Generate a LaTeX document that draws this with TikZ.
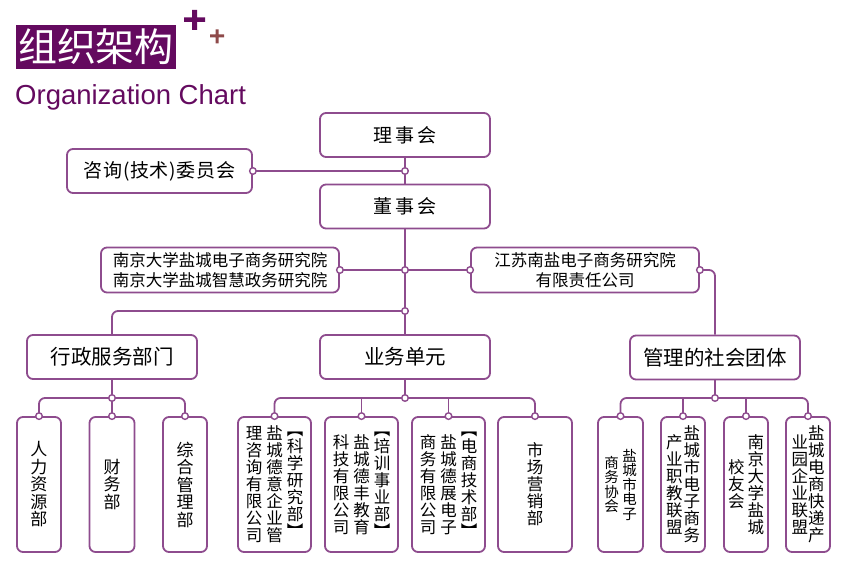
\documentclass[tikz,border=0pt]{standalone}
\usepackage{fontspec}
\setmainfont{Noto Sans CJK SC}
\newfontfamily\latinfont{Liberation Sans}
\newfontfamily\widefont[LetterSpace=14]{Noto Sans CJK SC}
\newfontfamily\midfont[LetterSpace=4]{Noto Sans CJK SC}

\definecolor{orgpurple}{HTML}{640A5F}
\definecolor{linepurple}{HTML}{8E4C8E}
\definecolor{plusbrown}{HTML}{8E4A4A}

% one character per row, rows centred on the math axis
\def\vchars#1{\ifx#1\relax\else\hbox to 1em{\hss#1\hss}\expandafter\vchars\fi}
\newcommand\vcol[1]{$\vcenter{\lineskiplimit=-\maxdimen\vchars#1\relax}$}

\tikzset{
  box/.style={draw=linepurple, line width=1.8pt, rounded corners=6pt, fill=white, inner sep=0pt, text=black},
  topbox/.style={box, minimum width=170pt, minimum height=44pt, font=\widefont\fontsize{19}{22}\selectfont},
  sidebox/.style={box, minimum width=185pt, minimum height=44pt, font=\midfont\fontsize{19}{22}\selectfont},
  instbox/.style={box, minimum height=45pt, align=center, font=\fontsize{16.5}{20.5}\selectfont},
  secbox/.style={box, minimum width=170pt, minimum height=44pt, font=\fontsize{20.5}{24}\selectfont},
  leaf/.style={box, minimum height=135pt, font=\fontsize{16.5}{17}\selectfont},
  link/.style={draw=linepurple, line width=1.8pt, rounded corners=6pt},
  joint/.style={draw=linepurple, fill=white, line width=1.4pt}
}

\begin{document}
\begin{tikzpicture}[x=1pt,y=-1pt]
\useasboundingbox (0,0) rectangle (860,577);

% heading
\node[fill=orgpurple, text=white, minimum width=160pt, minimum height=44pt, inner sep=0pt,
      font=\fontsize{39}{42}\selectfont] (title) at (96,47) {组织架构};
\node[anchor=base west, inner sep=0pt, text=orgpurple,
      font=\latinfont\fontsize{27.5}{30}\selectfont] (subtitle) at (15,105) {Organization Chart};
\fill[orgpurple] (184,17.5) rectangle (205,22) (192,10) rectangle (197,30);
\fill[plusbrown] (210,34.5) rectangle (224,37.5) (215.5,29.5) rectangle (218.5,43.5);

% upper levels
\node[topbox] (lsh) at (405,135) {理事会};
\node[topbox] (dsh) at (405,206.5) {董事会};
\node[sidebox] (zx) at (159.5,171) {咨询(技术)委员会};
\node[instbox, minimum width=238pt] (nj) at (220,270) {南京大学盐城电子商务研究院\\南京大学盐城智慧政务研究院};
\node[instbox, minimum width=228pt] (js) at (585,270) {江苏南盐电子商务研究院\\有限责任公司};
\node[secbox] (xz) at (112,357) {行政服务部门};
\node[secbox] (yw) at (405,357) {业务单元};
\node[secbox] (gl) at (715,357.5) {管理的社会团体};

\coordinate (j1) at (405,171);
\coordinate (j2) at (405,270);
\coordinate (j3) at (405,311);
\coordinate (j4) at (112,398);
\coordinate (j5) at (405,398);
\coordinate (j6) at (715,398);

% leaves
\node[leaf, minimum width=44pt, font=\fontsize{17}{17.5}\selectfont] (hr) at (39,484.5) {\vcol{人力资源部}};
\node[leaf, minimum width=45pt, font=\fontsize{17}{17.5}\selectfont] (fin) at (112,484.5) {\vcol{财务部}};
\node[leaf, minimum width=44pt, font=\fontsize{17}{17.5}\selectfont] (adm) at (185,484.5) {\vcol{综合管理部}};

\node[leaf, minimum width=73pt] (sci) at (274.5,484.5) {\vcol{理咨询有限公司}\hspace{4pt}\vcol{盐城德意企业管}\hspace{4pt}\vcol{︻科学研究部︼}};
\node[leaf, minimum width=73pt] (edu) at (361.5,484.5) {\vcol{科技有限公司}\hspace{4pt}\vcol{盐城德丰教育}\hspace{4pt}\vcol{︻培训事业部︼}};
\node[leaf, minimum width=73pt] (ec) at (448.5,484.5) {\vcol{商务有限公司}\hspace{4pt}\vcol{盐城德展电子}\hspace{4pt}\vcol{︻电商技术部︼}};
\node[leaf, minimum width=74pt] (mkt) at (535,484.5) {\vcol{市场营销部}};

\node[leaf, minimum width=45pt, font=\fontsize{14.5}{14.5}\selectfont] (assoc) at (620.5,484.5) {\vcol{商务协会}\hspace{3.5pt}\vcol{盐城市电子}};
\node[leaf, minimum width=44pt] (voc) at (683,484.5) {\vcol{产业职教联盟}\hspace{1pt}\vcol{盐城市电子商务}};
\node[leaf, minimum width=44pt] (alum) at (746,484.5) {\vcol{校友会}\hspace{3pt}\vcol{南京大学盐城}};
\node[leaf, minimum width=44pt] (league) at (808,484.5) {\vcol{业园企业联盟}\hspace{0pt}\vcol{盐城电商快递产}};

% connectors
\draw[link] (lsh) -- (dsh);
\draw[link] (zx.east) -- (j1);
\draw[link] (dsh) -- (yw);
\draw[link] (nj.east) -- (js.west);
\draw[link] (j3) -| (xz.north);
\draw[link] (js.east) -| (gl.north);

\draw[link] (xz) -- (fin);
\draw[link] (hr.north) |- (j4) -| (adm.north);

\draw[link] (yw) -- (j5);
\draw[link] (sci.north) |- (j5) -| (mkt.north);
\draw[link, sharp corners] (edu.north) |- (j5);
\draw[link, sharp corners] (ec.north) |- (j5);

\draw[link] (gl) -- (j6);
\draw[link] (assoc.north) |- (j6) -| (league.north);
\draw[link, sharp corners] (voc.north) |- (j6);
\draw[link, sharp corners] (alum.north) |- (j6);

\foreach \p in {zx.east, j1, nj.east, j2, js.west, js.east, j3, j4, j5, j6,
                hr.north, fin.north, adm.north, sci.north, edu.north, ec.north, mkt.north,
                assoc.north, voc.north, alum.north, league.north}
  \filldraw[joint] (\p) circle (3.3pt);
\end{tikzpicture}
\end{document}
